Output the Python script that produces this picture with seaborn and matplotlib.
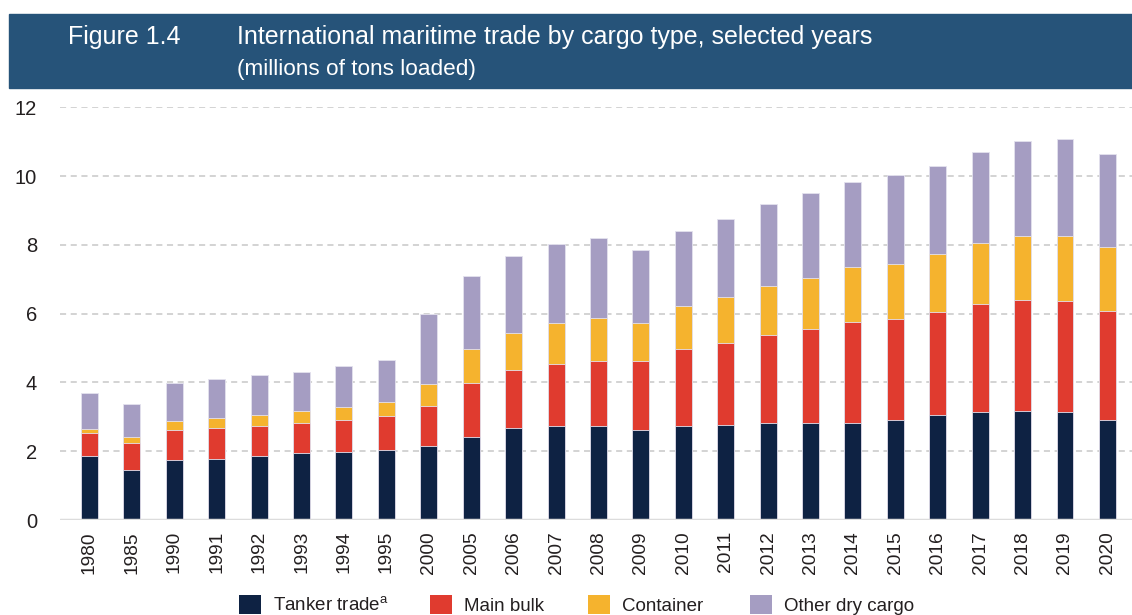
import matplotlib
matplotlib.use("Agg")
import matplotlib.pyplot as plt
from matplotlib.patches import Rectangle, Patch
import pandas as pd
import seaborn as sns

# values
years = ["1980", "1985", "1990", "1991", "1992", "1993", "1994", "1995", "2000",
         "2005", "2006", "2007", "2008", "2009", "2010", "2011", "2012", "2013",
         "2014", "2015", "2016", "2017", "2018", "2019", "2020"]
tanker = [1.86, 1.44, 1.74, 1.78, 1.85, 1.94, 1.99, 2.04, 2.14,
          2.40, 2.68, 2.72, 2.72, 2.63, 2.74, 2.77, 2.82, 2.81,
          2.81, 2.92, 3.04, 3.13, 3.18, 3.15, 2.90]
main_bulk = [0.68, 0.79, 0.89, 0.90, 0.89, 0.89, 0.93, 0.99, 1.18,
             1.59, 1.68, 1.82, 1.91, 2.00, 2.23, 2.37, 2.57, 2.74,
             2.96, 2.93, 3.02, 3.16, 3.22, 3.22, 3.19]
container = [0.10, 0.17, 0.25, 0.28, 0.31, 0.33, 0.36, 0.40, 0.62,
             0.97, 1.07, 1.20, 1.25, 1.10, 1.25, 1.35, 1.41, 1.48,
             1.58, 1.59, 1.66, 1.76, 1.85, 1.88, 1.85]
other_dry = [1.04, 0.97, 1.11, 1.15, 1.16, 1.15, 1.20, 1.21, 2.04,
             2.13, 2.25, 2.28, 2.33, 2.11, 2.17, 2.27, 2.39, 2.48,
             2.49, 2.58, 2.57, 2.66, 2.76, 2.82, 2.70]

series_names = ["Tanker trade", "Main bulk", "Container", "Other dry cargo"]
legend_labels = [r"Tanker trade$^{\mathregular{a}}$", "Main bulk", "Container", "Other dry cargo"]
colors = ["#0e2243", "#e03b2f", "#f5b32e", "#a59dc2"]
header_color = "#265379"
text_color = "#231f20"

df = pd.DataFrame({"year": years, "Tanker trade": tanker, "Main bulk": main_bulk,
                   "Container": container, "Other dry cargo": other_dry})
cum = df[series_names].cumsum(axis=1)

sns.set_theme(style="white")
plt.rcParams["font.family"] = ["Liberation Sans", "DejaVu Sans"]

W, H = 1132, 615
fig = plt.figure(figsize=(W / 100, H / 100), dpi=100)
ax = fig.add_axes([60 / W, 1 - 520 / H, 1 - 60 / W, (520 - 107.3) / H])

# cumulative totals drawn from the top down so the segments stack
for name, col in reversed(list(zip(series_names, colors))):
    sns.barplot(x=df["year"], y=cum[name], color=col, width=0.40, ax=ax,
                edgecolor="#e4e2ee", linewidth=0.6, saturation=1, zorder=3)

ax.set_ylim(0, 12)
ax.set_xlim(-0.695, 24.58)
ax.set_yticks(range(0, 13, 2))
ax.set_xlabel("")
ax.set_ylabel("")
ax.yaxis.grid(True, linestyle=(0, (4, 3)), color="#c8c8c8", linewidth=1.1, zorder=0)
ax.axhline(0, color="#dcdcdc", linewidth=2.5, zorder=4)
for s in ax.spines.values():
    s.set_visible(False)
ax.tick_params(axis="y", labelsize=14.5, colors=text_color, pad=16.5, length=0)
ax.tick_params(axis="x", labelsize=13.8, colors=text_color, rotation=90, pad=8, length=0)

# header band
fig.patches.append(Rectangle((9 / W, 1 - 88 / H), 1 - 9 / W, 74 / H,
                             transform=fig.transFigure, color=header_color, zorder=0))
fig.text(68 / W, 1 - 37 / H, "Figure 1.4", color="white", fontsize=18,
         va="center", ha="left")
fig.text(237 / W, 1 - 37 / H, "International maritime trade by cargo type, selected years",
         color="white", fontsize=18, va="center", ha="left")
fig.text(237 / W, 1 - 69 / H, "(millions of tons loaded)", color="white", fontsize=16.2,
         va="center", ha="left")

# legend entries placed one by one like the original layout
legend_x = [239, 430, 588, 750]
for lx, lab, col in zip(legend_x, legend_labels, colors):
    fig.legend([Patch(facecolor=col, edgecolor="none")], [lab], loc="center left",
               bbox_to_anchor=(lx / W, 1 - 605 / H), frameon=False, fontsize=13.5,
               handlelength=1.17, handleheight=1.17, handletextpad=0.65,
               borderpad=0, borderaxespad=0, labelcolor=text_color)

fig.savefig("out.png", dpi=100)
